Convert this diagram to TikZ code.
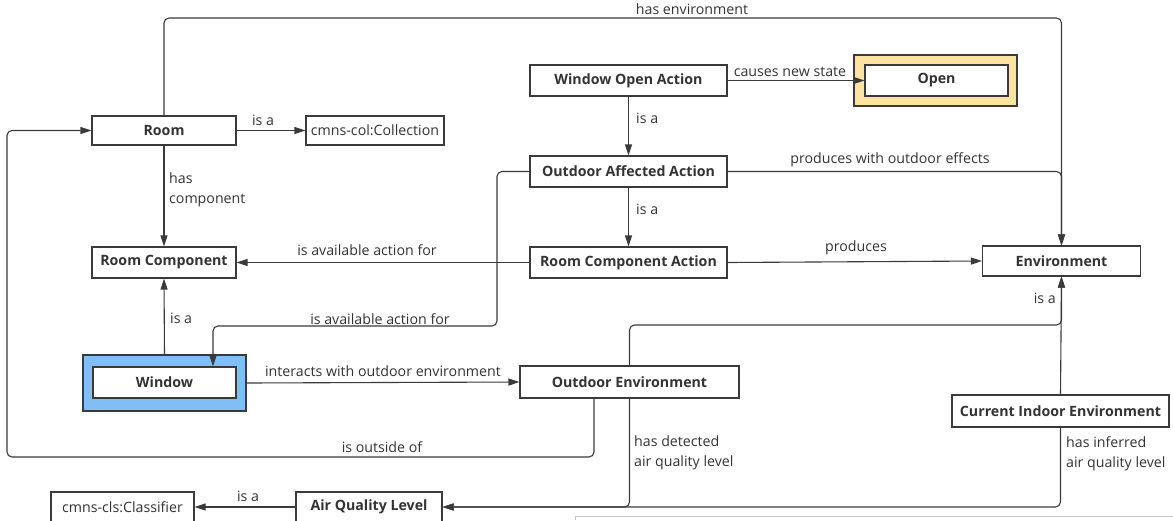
\documentclass[tikz,border=0pt]{standalone}
\usepackage{fontspec}
\setmainfont{Open Sans}
\usetikzlibrary{arrows.meta}
\definecolor{linkc}{HTML}{3A3A3A}
\definecolor{boxc}{HTML}{3A3A3A}
\definecolor{textc}{HTML}{333333}
\definecolor{stateyellow}{HTML}{FCE3A0}
\definecolor{objblue}{HTML}{80BEF5}
\begin{document}
\begin{tikzpicture}[x=1pt,y=-1pt,
  cls/.style={draw=boxc, line width=1.1pt, fill=white, inner sep=0pt,
    text=textc, font=\bfseries\fontsize{14.2}{16}\selectfont},
  ref/.style={draw=boxc, line width=1.1pt, fill=white, inner sep=0pt,
    text=textc, font=\fontsize{14.2}{16}\selectfont},
  frame/.style={draw=boxc, line width=1.1pt, inner sep=0pt},
  lbl/.style={inner sep=0pt, text=textc, font=\fontsize{14.2}{16}\selectfont},
  lbl2/.style={lbl, align=left, font=\fontsize{14.2}{20}\selectfont},
  link/.style={draw=linkc, line width=1.1pt, rounded corners=5pt},
  arr/.style={link, -{Triangle[length=11pt,width=7pt]}}]
\useasboundingbox (0,0) rectangle (1173,520);

% frames behind the highlighted nodes
\node[frame, fill=stateyellow, minimum width=163pt, minimum height=51pt] (openframe) at (935.5,80.5) {};
\node[frame, fill=objblue, minimum width=163pt, minimum height=56pt] (winframe) at (164.5,383) {};

% classes
\node[cls, minimum width=144pt, minimum height=29pt] (room) at (164,130.5) {Room};
\node[ref, minimum width=138pt, minimum height=29pt] (col) at (375,130.5) {cmns-col:Collection};
\node[cls, minimum width=197pt, minimum height=31pt] (woa) at (628.5,80.5) {Window Open Action};
\node[cls, minimum width=143pt, minimum height=31pt] (open) at (936.5,80.5) {Open};
\node[cls, minimum width=197pt, minimum height=31pt] (oaa) at (628.5,171.5) {Outdoor Affected Action};
\node[cls, minimum width=197pt, minimum height=31pt] (rca) at (628.5,262.5) {Room Component Action};
\node[cls, minimum width=144pt, minimum height=31pt] (rc) at (164,262.5) {Room Component};
\node[cls, minimum width=158pt, minimum height=30pt] (env) at (1061.5,261) {Environment};
\node[cls, minimum width=143pt, minimum height=31pt] (win) at (164.5,382.5) {Window};
\node[cls, minimum width=219pt, minimum height=32pt] (oe) at (629.5,382) {Outdoor Environment};
\node[cls, minimum width=217pt, minimum height=32pt] (cie) at (1060.5,411) {Current Indoor Environment};
\node[ref, minimum width=143pt, minimum height=30pt] (cls) at (122.5,507) {cmns-cls:Classifier};
\node[cls, minimum width=146pt, minimum height=30pt] (aql) at (369,507) {Air Quality Level};

% bend points
\coordinate (ytop) at (0,18);
\coordinate (xenv) at (1061.5,0);
\coordinate (xsplit) at (497,0);
\coordinate (yavail) at (0,326);
\coordinate (xwin) at (213,0);
\coordinate (xout) at (594,0);
\coordinate (yout) at (0,457);
\coordinate (xleft) at (7,0);
\coordinate (yisa) at (0,325);
\coordinate (yaql) at (0,507);

% connectors
\draw[arr] (room.north) -- (room.north |- ytop) -- (xenv |- ytop) -- (env.north);
\draw[arr] (oaa.east) -- (oaa.east -| xenv) -- (env.north);
\draw[arr] (room) -- (col);
\draw[arr] (room) -- (rc);
\draw[arr] (woa.east) -- (open.west);
\draw[arr] (woa) -- (oaa);
\draw[arr] (oaa) -- (rca);
\draw[arr] (rca.west) -- (rc.east);
\draw[arr] (rca.east) -- (env.west);
\draw[arr] (oaa.west) -- (oaa.west -| xsplit) -- (xsplit |- yavail) -- (xwin |- yavail) -- (win.north -| xwin);
\draw[arr] (winframe.north) -- (rc.south);
\draw[arr] (winframe.east) -- (oe.west);
\draw[arr] (oe.south -| xout) -- (xout |- yout) -- (xleft |- yout) -- (xleft |- room.west) -- (room.west);
\draw[arr] (oe.north) -- (oe.north |- yisa) -- (xenv |- yisa) -- (env.south);
\draw[arr] (cie.north) -- (env.south);
\draw[arr] (oe.south) -- (oe.south |- yaql) -- (aql.east);
\draw[arr] (cie.south) -- (cie.south |- yaql) -- (aql.east);
\draw[arr] (aql.west) -- (cls.east);

% connector labels
\node[lbl] (l1) at (692,9) {has environment};
\node[lbl] (l2) at (263,120) {is a};
\node[lbl] (l3) at (790,72) {causes new state};
\node[lbl, anchor=west] (l4) at (636,118) {is a};
\node[lbl, anchor=west] (l5) at (636,209) {is a};
\node[lbl] (l6) at (890,160) {produces with outdoor effects};
\node[lbl2, anchor=north west] (l7) at (169,173) {has\\component};
\node[lbl] (l8) at (367,250) {is available action for};
\node[lbl] (l9) at (856,248) {produces};
\node[lbl] (l10) at (380,319) {is available action for};
\node[lbl, anchor=west] (l11) at (170,318) {is a};
\node[lbl] (l12) at (383,371) {interacts with outdoor environment};
\node[lbl] (l13) at (382,447) {is outside of};
\node[lbl, anchor=east] (l14) at (1056,298) {is a};
\node[lbl2, anchor=north west] (l15) at (634,436) {has detected\\air quality level};
\node[lbl2, anchor=north west] (l16) at (1066,436) {has inferred\\air quality level};
\node[lbl] (l17) at (248,496) {is a};

% faint edge along the lower right
\draw[black!22, line width=1pt] (575.5,520) -- (575.5,516.5) -- (1173,516.5);
\end{tikzpicture}
\end{document}
